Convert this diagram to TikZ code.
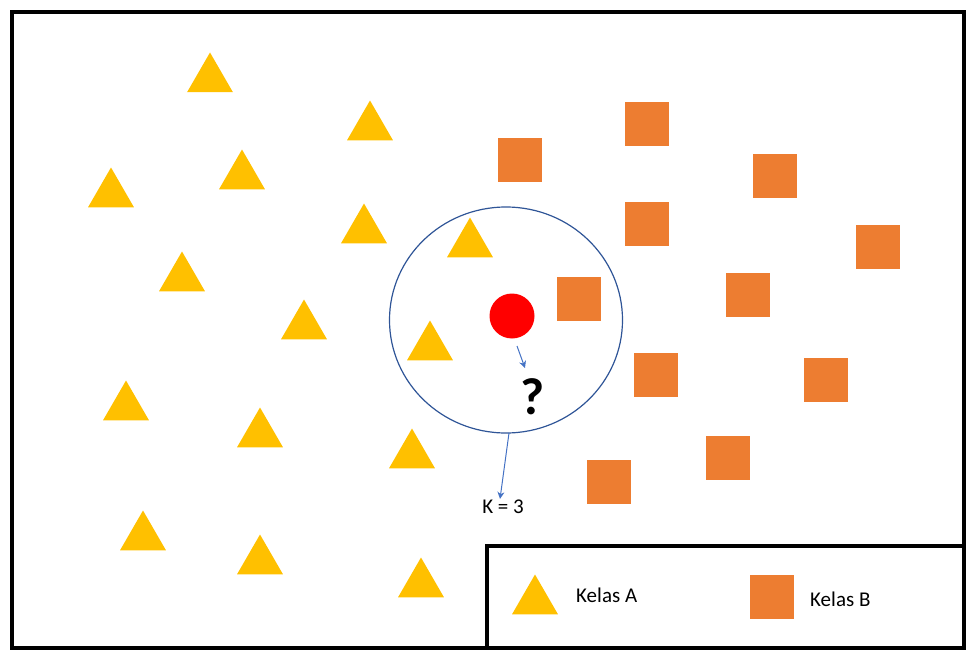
\documentclass[tikz,border=0pt]{standalone}
\usepackage{fontspec}
\setmainfont{Carlito}
\usetikzlibrary{shapes.geometric,arrows.meta}
\definecolor{triY}{HTML}{FFC000}
\definecolor{sqO}{HTML}{ED7D31}
\definecolor{cirB}{HTML}{2F5597}
\definecolor{arB}{HTML}{4472C4}
\tikzset{
 tri/.style={regular polygon,regular polygon sides=3,minimum size=53pt,inner sep=0pt,fill=triY,draw=none},
 sq/.style={rectangle,minimum size=44pt,inner sep=0pt,fill=sqO,draw=none},
 ptr/.style={arB,line width=1pt,-{Stealth[length=7pt,width=7pt]}},
 lbl/.style={font=\fontsize{21}{24}\selectfont,inner sep=1pt}
}
\begin{document}
\begin{tikzpicture}[x=1pt,y=-1pt]
\useasboundingbox (0,0) rectangle (975,661);
\draw[line width=4pt] (12,12) rectangle (964,648);
\draw[line width=4pt] (487,546) rectangle (964,648);
\foreach \n/\x/\y in {t1/210/75,t2/370/123,t3/242/172,t4/111/190,t5/364/226,t6/470/240,t7/182/274,t8/304/322,t9/430/343,t10/126/403,t11/260/430,t12/412/451,t13/143/533,t14/260/557,t15/421/580}
  \node[tri] (\n) at (\x,\y+4) {};
\foreach \n/\x/\y in {s1/647/124,s2/520/160,s3/775/176,s4/647/224,s5/878/247,s6/579/299,s7/748/295,s8/656/375,s9/826/380,s10/728/458,s11/609/482}
  \node[sq] (\n) at (\x,\y) {};
\node[ellipse,draw=cirB,line width=1.2pt,minimum width=233pt,minimum height=226pt,inner sep=0pt] (circ) at (506,320) {};
\node[circle,fill=red,minimum size=45pt,inner sep=0pt] (dot) at (512,316) {};
\node[font=\fontsize{52}{56}\selectfont\bfseries,inner sep=0pt] (q) at (533,397) {?};
\coordinate (a1s) at (517,346);
\coordinate (a1e) at (525,368);
\draw[ptr] (a1s) -- (a1e);
\node[lbl] (k) at (503,507) {K = 3};
\coordinate (a2s) at (509,433);
\draw[ptr] (a2s) -- (k.north -| 500,0);
\node[tri] (lt) at (535,601) {};
\node[lbl,anchor=west] (la) at (575,595) {Kelas A};
\node[lbl,anchor=west] (lb) at (809,599) {Kelas B};
\node[sq] (ls) at (772,597) {};
\end{tikzpicture}
\end{document}
